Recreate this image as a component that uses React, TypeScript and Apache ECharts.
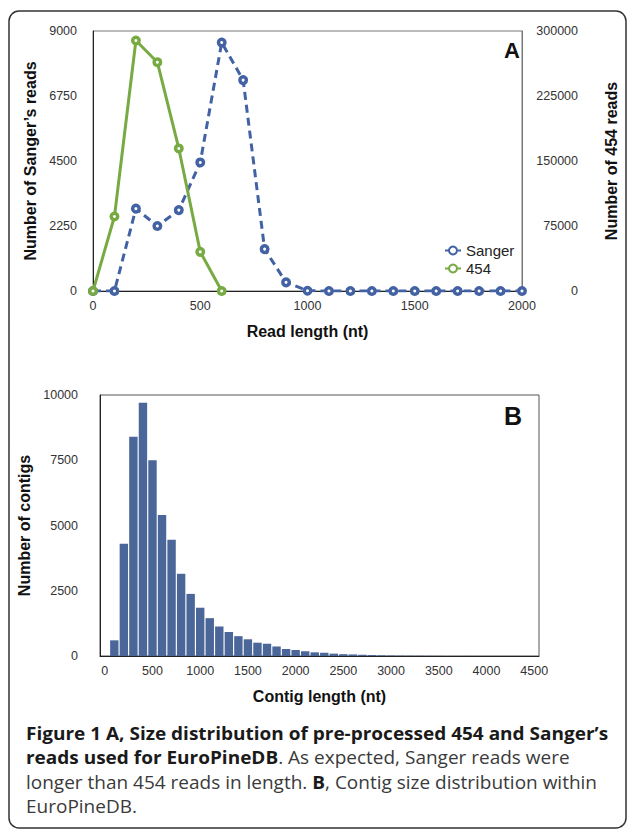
import React, { useEffect, useRef } from "react";
import * as echarts from "echarts";

// Panel A data
const readLengths = [0, 100, 200, 300, 400, 500, 600, 700, 800, 900, 1000, 1100, 1200, 1300, 1400, 1500, 1600, 1700, 1800, 1900, 2000];
const sangerReads = [0, 0, 2850, 2250, 2800, 4450, 8600, 7300, 1450, 300, 10, 0, 0, 0, 0, 0, 0, 0, 0, 0, 0];
const reads454Lengths = [0, 100, 200, 300, 400, 500, 600];
const reads454 = [0, 86000, 289000, 264000, 164500, 45200, 0];

// Panel B data
const contigBins = [
  "0", "100", "200", "300", "400", "500", "600", "700", "800", "900",
  "1000", "1100", "1200", "1300", "1400", "1500", "1600", "1700", "1800", "1900",
  "2000", "2100", "2200", "2300", "2400", "2500", "2600", "2700", "2800", "2900",
  "3000", "3100", "3200", "3300", "3400", "3500", "3600", "3700", "3800", "3900",
  "4000", "4100", "4200", "4300", "4400", "4500",
];
const contigCounts = [
  0, 600, 4300, 8400, 9700, 7500, 5400, 4450, 3150, 2380,
  1850, 1450, 1130, 920, 760, 640, 510, 470, 360, 270,
  230, 180, 140, 120, 90, 70, 60, 45, 40, 25,
  18, 12, 10, 8, 6, 4, 3, 2, 2, 1,
  1, 0, 0, 0, 0, 0,
];

const BLUE = "#4262a4";
const GREEN = "#77aa43";
const BAR = "#4b6699";
const AX = "'Liberation Sans', Arial, sans-serif";
const CAP = "'Open Sans', sans-serif";

export default function App() {
  const ref = useRef<HTMLDivElement>(null);
  useEffect(() => {
    if (!ref.current) return;
    const chart = echarts.init(ref.current, null, { renderer: "svg" });
    const plain = (v: number) => String(v);
    const axisLabel = { color: "#333", fontSize: 12.5, fontFamily: AX, formatter: plain };
    const nameStyle = { color: "#111", fontSize: 16, fontWeight: "bold" as const, fontFamily: AX };
    const axisLine = { show: true, lineStyle: { color: "#222", width: 1 } };
    const capLine = (y: number, text: string) => ({
      type: "text", x: 0, y,
      style: {
        text, fill: "#3a3a3a", fontFamily: CAP, fontSize: 18, verticalAlign: "middle",
        rich: { b: { fontWeight: "bold", fill: "#1a1a1a", fontFamily: CAP, fontSize: 18 } },
      },
    });
    chart.setOption({
      animation: false,
      backgroundColor: "#fff",
      grid: [
        { left: 93, top: 31, width: 441, height: 260, show: true, borderColor: "#777", borderWidth: 1 },
        { left: 100, top: 395, width: 439, height: 261, show: true, borderColor: "#555", borderWidth: 1 },
      ],
      legend: {
        orient: "vertical",
        left: 439,
        top: 238,
        itemWidth: 16,
        itemHeight: 10,
        itemGap: 3,
        textStyle: { color: "#222", fontSize: 15, lineHeight: 15, fontFamily: AX },
        data: ["Sanger", "454"],
      },
      xAxis: [
        {
          type: "value", gridIndex: 0, min: 0, max: 2000, interval: 500,
          axisLine, axisTick: { show: false }, splitLine: { show: false },
          axisLabel: { ...axisLabel, margin: 8 },
          name: "Read length (nt)", nameLocation: "middle", nameGap: 32, nameTextStyle: nameStyle,
        },
        {
          type: "category", gridIndex: 1, data: contigBins,
          axisLine, axisTick: { show: false }, splitLine: { show: false },
          axisLabel: { color: "#333", fontSize: 12.5, fontFamily: AX, margin: 8, interval: 4 },
          name: "Contig length (nt)", nameLocation: "middle", nameGap: 32, nameTextStyle: nameStyle,
        },
      ],
      yAxis: [
        {
          type: "value", gridIndex: 0, min: 0, max: 9000, interval: 2250,
          axisLine, axisTick: { show: false }, splitLine: { show: false },
          axisLabel: { ...axisLabel, margin: 16 },
          name: "Number of Sanger\u2019s reads", nameLocation: "middle", nameGap: 42, nameRotate: 90, nameTextStyle: nameStyle,
        },
        {
          type: "value", gridIndex: 0, position: "right", min: 0, max: 300000, interval: 75000,
          axisLine: { show: true, lineStyle: { color: "#777", width: 1 } }, axisTick: { show: false }, splitLine: { show: false },
          axisLabel: { ...axisLabel, margin: 56, align: "right" },
          name: "Number of 454 reads", nameLocation: "middle", nameGap: 81, nameRotate: 90, nameTextStyle: nameStyle,
        },
        {
          type: "value", gridIndex: 1, min: 0, max: 10000, interval: 2500,
          axisLine, axisTick: { show: false }, splitLine: { show: false },
          axisLabel: { ...axisLabel, margin: 22 },
          name: "Number of contigs", nameLocation: "middle", nameGap: 38, nameRotate: 90, nameTextStyle: nameStyle,
        },
      ],
      series: [
        {
          name: "Sanger", type: "line", xAxisIndex: 0, yAxisIndex: 0,
          data: readLengths.map((x, i) => [x, sangerReads[i]]),
          symbol: "circle", symbolSize: 6.5,
          itemStyle: { color: "#fff", borderColor: BLUE, borderWidth: 3.5 },
          lineStyle: { color: BLUE, width: 3, type: [8, 5] },
          z: 3,
        },
        {
          name: "454", type: "line", xAxisIndex: 0, yAxisIndex: 1,
          data: reads454Lengths.map((x, i) => [x, reads454[i]]),
          symbol: "circle", symbolSize: 6.5,
          itemStyle: { color: "#fff", borderColor: GREEN, borderWidth: 3.5 },
          lineStyle: { color: GREEN, width: 3 },
          z: 4,
        },
        {
          name: "Contigs", type: "bar", xAxisIndex: 1, yAxisIndex: 2,
          data: contigCounts, barCategoryGap: "12%",
          itemStyle: { color: BAR },
        },
      ],
      graphic: [
        {
          type: "rect", shape: { x: 9, y: 11, width: 617, height: 817, r: 10 },
          style: { fill: "none", stroke: "#333", lineWidth: 1.5 }, silent: true,
        },
        {
          type: "text", x: 512, y: 50, style: { text: "A", font: `bold 22px ${AX}`, fill: "#111", align: "center", verticalAlign: "middle" },
        },
        {
          type: "text", x: 513, y: 416, style: { text: "B", font: `bold 25px ${AX}`, fill: "#111", align: "center", verticalAlign: "middle" },
        },
        {
          type: "group", x: 26, y: 0, scaleX: 1.055,
          children: [
            capLine(732.5, "{b|Figure 1 A, Size distribution of pre-processed 454 and Sanger\u2019s}"),
            capLine(757, "{b|reads used for EuroPineDB}. As expected, Sanger reads were"),
            capLine(781.5, "longer than 454 reads in length. {b|B}, Contig size distribution within"),
            capLine(806, "EuroPineDB."),
          ],
        },
      ],
    });
    return () => chart.dispose();
  }, []);
  return <div ref={ref} style={{ position: "fixed", left: 0, top: 0, width: 627, height: 830 }} />;
}
